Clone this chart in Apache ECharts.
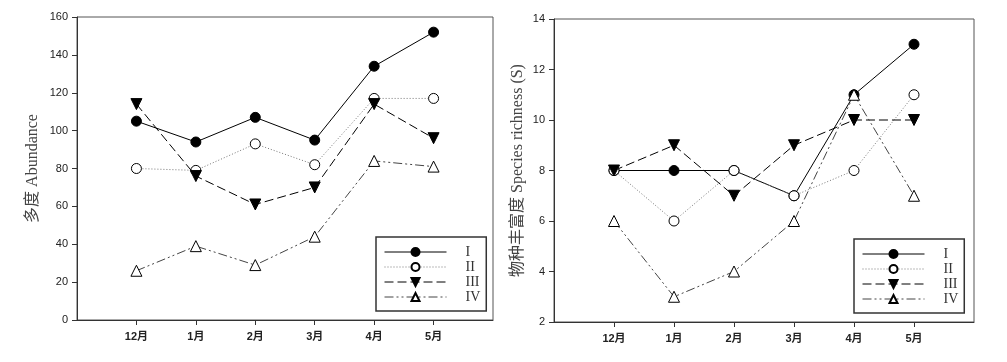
<!DOCTYPE html>
<html><head><meta charset="utf-8">
<script src="https://cdn.jsdelivr.net/npm/echarts@6/dist/echarts.min.js"></script>
<style>html,body{margin:0;padding:0;background:#fff}#c{width:1007px;height:362px}</style>
</head><body><div id="c"></div>
<script>
const months = ['12月','1月','2月','3月','4月','5月'];
const seriesNames = ['I','II','III','IV'];
const abundI   = [105, 94, 107, 95, 134, 152];
const abundII  = [80, 79, 93, 82, 117, 117];
const abundIII = [114, 76, 61, 70, 114, 96];
const abundIV  = [26, 39, 29, 44, 84, 81];
const richI   = [8, 8, 8, 7, 11, 13];
const richII  = [8, 6, 8, 7, 8, 11];
const richIII = [8, 9, 7, 9, 10, 10];
const richIV  = [6, 3, 4, 6, 11, 7];
const abundTicks = [0,20,40,60,80,100,120,140,160];
const richTicks = [2,4,6,8,10,12,14];

const styles = [
  {symbol:'circle', symbolSize:10, symbolRotate:0, item:{color:'#000',borderColor:'#000',borderWidth:1}, line:{color:'#000',width:1,type:'solid'}},
  {symbol:'circle', symbolSize:10, symbolRotate:0, item:{color:'#fff',borderColor:'#000',borderWidth:1}, line:{color:'#777',width:1,type:[1,2]}},
  {symbol:'triangle', symbolSize:11, symbolRotate:180, item:{color:'#000',borderColor:'#000',borderWidth:1}, line:{color:'#000',width:1,type:[9,4]}},
  {symbol:'triangle', symbolSize:11, symbolRotate:0, item:{color:'#fff',borderColor:'#000',borderWidth:1}, line:{color:'#444',width:1,type:[9,3,2,3,2,3]}}
];

function mk(name, vals, idx, st){
  return {name:name, type:'line', xAxisIndex:idx, yAxisIndex:idx,
    data: vals.map((v,i)=>[i+1, v]),
    symbol: st.symbol, symbolSize: st.symbolSize, symbolRotate: st.symbolRotate,
    itemStyle: st.item, lineStyle: st.line, emphasis:{disabled:true}, animation:false};
}
const sAb = [abundI, abundII, abundIII, abundIV];
const sRi = [richI, richII, richIII, richIV];
const series = [];
sAb.forEach((v,k)=>series.push(mk(seriesNames[k], v, 0, styles[k])));
sRi.forEach((v,k)=>series.push(mk(seriesNames[k], v, 1, styles[k])));

function xAx(idx){
  return {type:'value', gridIndex:idx, min:0, max:7, interval:1,
    axisLine:{lineStyle:{color:'#333',width:1}},
    axisTick:{show:true, length:5, lineStyle:{color:'#333'}, customValues:[1,2,3,4,5,6]},
    axisLabel:{customValues:[1,2,3,4,5,6], margin:11, fontSize:11, fontWeight:'bold', color:'#222', fontFamily:'Liberation Sans, Noto Sans CJK SC',
      formatter:v=> (v>=1 && v<=6) ? months[v-1] : ''},
    splitLine:{show:false}};
}
function yAx(idx, ticks, name, gap){
  return {type:'value', gridIndex:idx, min:ticks[0], max:ticks[ticks.length-1], interval:ticks[1]-ticks[0],
    name:name, nameLocation:'middle', nameGap:gap,
    nameTextStyle:{fontSize:16, color:'#444', fontFamily:'Liberation Serif, Noto Sans CJK SC'},
    axisLine:{show:true, lineStyle:{color:'#333',width:1}},
    axisTick:{show:true, length:5, lineStyle:{color:'#333'}},
    axisLabel:{margin:9, fontSize:11, color:'#222', fontFamily:'Liberation Sans'},
    splitLine:{show:false}};
}
function leg(left, top){
  return {data:seriesNames, orient:'vertical', left:left, top:top,
    itemWidth:62, itemHeight:10, itemGap:1, padding:[8,6,7,8],
    borderColor:'#333', borderWidth:1.5, selectedMode:false,
    lineStyle:{width:1},
    textStyle:{fontSize:14, lineHeight:14, color:'#333', fontFamily:'Liberation Serif', padding:[0,0,0,14]}};
}
const chart = echarts.init(document.getElementById('c'));
chart.setOption({
  animation:false,
  backgroundColor:'#fff',
  grid:[
    {left:77, top:17, width:416, height:303, show:true, borderColor:'#555', borderWidth:1},
    {left:554, top:19, width:420, height:303, show:true, borderColor:'#555', borderWidth:1}
  ],
  xAxis:[xAx(0), xAx(1)],
  yAxis:[yAx(0, abundTicks, '多度 Abundance', 36), yAx(1, richTicks, '物种丰富度 Species richness (S)', 28)],
  legend:[leg(376,237), leg(854,239)],
  series: series
});
</script></body></html>
